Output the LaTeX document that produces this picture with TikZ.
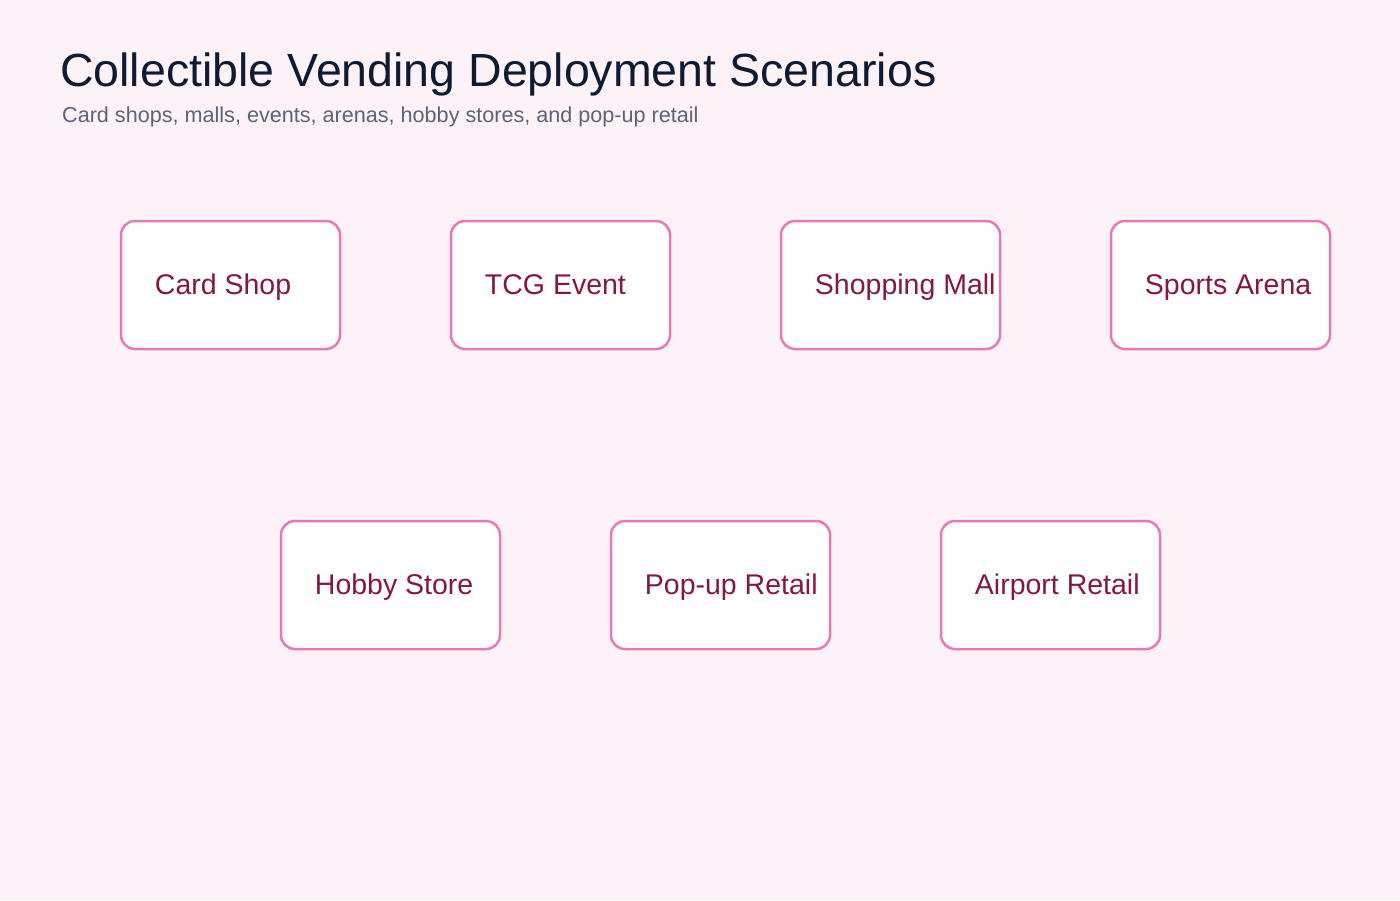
\documentclass[tikz,border=0pt]{standalone}
\usepackage{fontspec}
\setmainfont{Liberation Sans}
\definecolor{bg}{HTML}{FDF2F8}
\definecolor{edge}{HTML}{E67AB8}
\definecolor{lbl}{HTML}{831843}
\definecolor{ttl}{HTML}{0F1B33}
\definecolor{sub}{HTML}{5B6478}
\tikzset{
  card/.style={draw=edge, fill=white, line width=2.5pt, rounded corners=14pt,
    minimum width=219pt, minimum height=128pt, inner sep=0pt},
  cardtext/.style={anchor=base west, inner sep=0pt, text=lbl,
    font=\fontsize{28.5}{32}\selectfont},
}
\begin{document}
\begin{tikzpicture}[x=1pt,y=-1pt]
\fill[bg] (0,0) rectangle (1400,900);
\useasboundingbox (0,0) rectangle (1400,900);
\node[anchor=base west, inner sep=0pt, text=ttl, font=\fontsize{46.5}{52}\selectfont] (title) at (60,86) {Collectible Vending Deployment Scenarios};
\node[anchor=base west, inner sep=0pt, text=sub, font=\fontsize{21.6}{24}\selectfont] (subtitle) at (62,122) {Card shops, malls, events, arenas, hobby stores, and pop-up retail};
\node[card] (cardshop) at (230.5,285) {};
\node[card] (tcg) at (560.5,285) {};
\node[card] (mall) at (890.5,285) {};
\node[card] (arena) at (1220.5,285) {};
\node[card] (hobby) at (390.5,585) {};
\node[card] (popup) at (720.5,585) {};
\node[card] (airport) at (1050.5,585) {};
\node[cardtext] (t1) at ([xshift=35pt,yshift=-9.5pt]cardshop.west) {Card Shop};
\node[cardtext] (t2) at ([xshift=35pt,yshift=-9.5pt]tcg.west) {TCG Event};
\node[cardtext] (t3) at ([xshift=35pt,yshift=-9.5pt]mall.west) {Shopping Mall};
\node[cardtext] (t4) at ([xshift=35pt,yshift=-9.5pt]arena.west) {Sports Arena};
\node[cardtext] (t5) at ([xshift=35pt,yshift=-9.5pt]hobby.west) {Hobby Store};
\node[cardtext] (t6) at ([xshift=35pt,yshift=-9.5pt]popup.west) {Pop-up Retail};
\node[cardtext] (t7) at ([xshift=35pt,yshift=-9.5pt]airport.west) {Airport Retail};
\end{tikzpicture}
\end{document}
